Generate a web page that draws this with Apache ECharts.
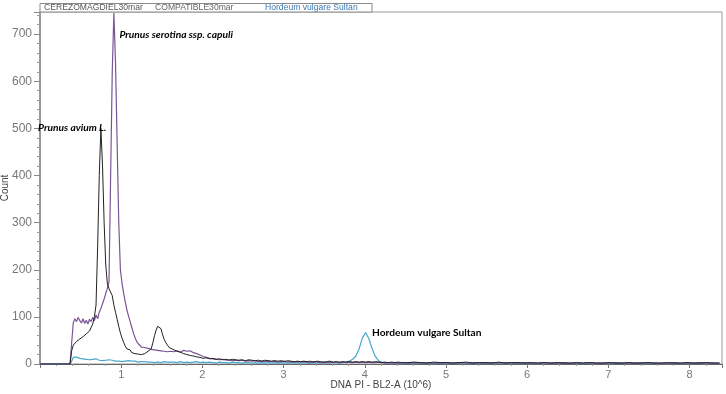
<!DOCTYPE html>
<html>
<head>
<meta charset="utf-8">
<script src="https://cdn.jsdelivr.net/npm/echarts@6/dist/echarts.min.js"></script>
<style>
html,body{margin:0;padding:0;background:#fff;}
#chart{width:726px;height:394px;}
</style>
</head>
<body>
<div id="chart"></div>
<script>
// Channel positions (DNA PI - BL2-A, 10^6)
const channels = [
  0, 0.37,
  0.39,0.41,0.43,0.45,0.47,0.49,0.51,0.53,0.55,0.57,
  0.59,0.61,0.63,0.65,0.67,0.69,0.71,0.73,0.75,0.77,
  0.79,0.81,0.83,0.85,0.87,0.89,0.91,0.93,0.95,0.97,
  0.99,1.01,1.03,1.05,1.07,1.09,1.11,1.13,1.15,1.17,
  1.19,1.21,1.23,1.25,1.27,1.29,1.31,1.33,1.35,1.37,
  1.39,1.41,1.43,1.45,1.47,1.49,1.51,1.53,1.55,1.57,
  1.59,1.61,
  1.65,1.69,1.73,1.77,1.81,1.85,1.89,1.93,1.97,2.01,
  2.05,2.09,2.13,2.17,2.21,2.25,2.29,2.33,2.37,2.41,
  2.45,2.49,2.53,2.57,2.61,2.65,2.69,2.73,2.77,2.81,
  2.85,2.89,2.93,2.97,3.01,3.05,3.09,3.13,3.17,3.21,
  3.25,3.29,3.33,3.37,3.41,3.45,3.49,3.53,3.57,3.61,
  3.65,3.69,3.73,3.77,3.81,3.85,3.89,3.93,3.97,4.01,
  4.05,4.09,4.13,4.17,4.21,4.25,4.29,4.33,4.37,4.41,
  4.45,
  4.53,4.61,4.69,4.77,4.85,4.93,5.01,5.09,5.17,5.25,
  5.33,5.41,5.49,5.57,5.65,5.73,5.81,5.89,5.97,6.05,
  6.13,6.21,6.29,6.37,6.45,6.53,6.61,6.69,6.77,6.85,
  6.93,7.01,7.09,7.17,7.25,7.33,7.41,7.49,7.57,7.65,
  7.73,7.81,7.89,7.97,8.05,8.13,8.21,8.29,8.37
];

// CEREZOMAGDIEL30mar (black, Prunus avium L.)
const cerezoCounts = [
  0, 0,
  28,40,36,48,44,53,50,58,55,64,
  60,70,72,85,100,125,250,400,500,420,
  300,210,170,160,163,145,125,110,95,80,
  66,55,46,38,32,28,30,24,27,22,
  26,21,25,20,24,22,24,27,28,32,
  45,60,72,80,84,75,62,52,45,40,
  35,32,
  30,27,25,22,20,18,17,15,14,12,
  13,11,12,10,11,9,10,8,10,9,
  8,9,7,9,8,7,8,6,8,7,
  6,7,6,7,5,7,6,5,6,5,
  6,5,6,4,6,5,4,5,6,4,
  5,4,5,4,5,4,5,4,5,4,
  5,4,5,4,3,4,3,4,3,4,
  3,
  3,4,3,2,4,3,3,2,3,4,
  2,3,3,2,4,2,3,3,2,3,
  2,3,2,3,2,2,3,2,3,2,
  2,3,2,2,3,2,2,3,2,2,
  3,2,2,3,2,2,3,2,2
];

// COMPATIBLE30mar (purple, Prunus serotina ssp. capuli)
const compatibleCounts = [
  0, 0,
  45,88,96,90,99,92,87,96,86,93,
  85,95,90,99,92,104,96,110,118,128,
  138,150,160,175,400,620,745,640,470,300,
  200,172,150,132,115,102,90,78,66,56,
  48,43,39,36,33,35,31,33,29,31,
  28,30,27,29,26,28,25,27,24,26,
  25,27,
  26,28,25,29,27,28,24,22,19,16,
  14,12,11,10,9,10,8,9,7,8,
  7,8,6,7,6,7,5,6,5,6,
  5,6,4,5,6,4,5,4,5,4,
  5,4,3,5,4,3,4,3,4,3,
  4,3,4,3,4,3,4,3,4,3,
  4,3,3,4,3,2,3,2,3,2,
  3,
  2,3,2,3,2,2,3,2,3,2,
  3,2,2,3,2,3,2,2,3,2,
  2,3,2,2,3,2,2,2,3,2,
  2,2,3,2,2,2,3,2,2,2,
  2,3,2,2,2,3,2,2,2
];

// Hordeum vulgare Sultan (blue, standard)
const hordeumCounts = [
  0, 0,
  6,14,12,15,13,12,14,11,13,10,
  12,9,11,10,8,11,9,8,10,7,
  9,8,7,9,6,8,7,6,8,6,
  7,5,7,6,5,7,5,6,4,6,
  5,4,6,5,4,5,6,4,5,4,
  5,3,5,4,5,3,4,5,3,4,
  3,4,
  4,3,5,3,4,3,4,5,3,4,
  3,4,3,2,4,3,3,2,4,3,
  3,2,3,3,2,3,2,3,2,3,
  2,3,2,3,2,2,3,2,3,2,
  3,2,2,3,2,3,2,3,2,3,
  3,2,3,4,6,10,17,32,55,67,
  54,33,16,7,4,3,2,3,2,2,
  2,
  2,1,2,2,1,2,1,2,2,1,
  2,1,2,1,2,2,1,2,1,2,
  1,2,2,1,2,1,2,1,2,1,
  2,1,1,2,1,2,1,1,2,1,
  1,2,1,1,2,1,1,2,1
];

const seriesNames = ['CEREZOMAGDIEL30mar', 'COMPATIBLE30mar', 'Hordeum vulgare Sultan'];
const peakLabels = ['Prunus avium L.', 'Prunus serotina ssp. capuli', 'Hordeum vulgare Sultan'];
const peakCoords = [[0.75, 500], [0.91, 745], [4.01, 67]];
const xTicks = [1, 2, 3, 4, 5, 6, 7, 8];
const yTicks = [0, 100, 200, 300, 400, 500, 600, 700];

const toPairs = ys => channels.map((x, i) => [x, ys[i]]);

const chart = echarts.init(document.getElementById('chart'), null, {renderer: 'canvas'});

const annoFont = {fontFamily: 'Lato', fontWeight: 'bold', fontSize: 10.2, color: '#000'};

function mk(idx, pos, offset, italic) {
  return {
    symbol: 'circle', symbolSize: 1,
    itemStyle: {color: 'rgba(0,0,0,0)'},
    silent: true,
    animation: false,
    data: [{coord: peakCoords[idx], label: {
      show: true, position: pos, distance: 3, offset: offset,
      formatter: peakLabels[idx],
      fontStyle: italic ? 'italic' : 'normal',
      ...annoFont
    }}]
  };
}

const option = {
  animation: false,
  backgroundColor: '#fff',
  grid: {left: 40, right: 4, top: 12, bottom: 30, containLabel: false, outerBoundsMode: 'none',
         show: true, borderColor: '#9a9a9a', borderWidth: 1},
  xAxis: {
    type: 'value', min: 0, max: 8.4, interval: 1,
    name: 'DNA PI - BL2-A (10^6)', nameLocation: 'middle', nameGap: 16, nameMoveOverlap: false,
    nameTextStyle: {fontFamily: 'Liberation Sans', fontSize: 10, color: '#444'},
    axisLine: {lineStyle: {color: '#666', width: 1}},
    axisTick: {show: true, length: 4, lineStyle: {color: '#777'}},
    minorTick: {show: true, splitNumber: 5, length: 2, lineStyle: {color: '#999'}},
    splitLine: {show: false},
    axisLabel: {
      showMinLabel: false, showMaxLabel: false, margin: 5,
      fontFamily: 'Liberation Sans', fontSize: 11, color: '#777',
      formatter: v => xTicks.includes(v) ? String(v) : ''
    }
  },
  yAxis: {
    type: 'value', min: 0, max: 747, interval: 100,
    name: 'Count', nameLocation: 'middle', nameGap: 30, nameRotate: 90, nameMoveOverlap: false,
    nameTextStyle: {fontFamily: 'Liberation Sans', fontSize: 10, color: '#444'},
    axisLine: {show: true, lineStyle: {color: '#888', width: 1.5}},
    axisTick: {show: true, length: 6, lineStyle: {color: '#888'}},
    minorTick: {show: true, splitNumber: 5, length: 3, lineStyle: {color: '#999'}},
    splitLine: {show: false},
    axisLabel: {
      showMaxLabel: false, margin: 8,
      fontFamily: 'Liberation Sans', fontSize: 12, color: '#777',
      formatter: v => yTicks.includes(v) ? String(v) : ''
    }
  },
  graphic: [
    {type: 'rect', shape: {x: 40, y: 3.5, width: 332, height: 8.5},
     style: {fill: '#fff', stroke: '#8a8a8a', lineWidth: 1}, z: 100},
    {type: 'text', x: 44, y: 8, z: 101,
     style: {text: seriesNames[0], fill: '#555', font: '8.6px "Liberation Sans"', textVerticalAlign: 'middle'}},
    {type: 'text', x: 155, y: 8, z: 101,
     style: {text: seriesNames[1], fill: '#666', font: '8.6px "Liberation Sans"', textVerticalAlign: 'middle'}},
    {type: 'text', x: 265, y: 8, z: 101,
     style: {text: seriesNames[2], fill: '#3a78b0', font: '8.6px "Liberation Sans"', textVerticalAlign: 'middle'}}
  ],
  series: [
    {
      name: seriesNames[2], type: 'line', data: toPairs(hordeumCounts),
      showSymbol: false, symbol: 'none', lineStyle: {color: '#4aa6cb', width: 1.2},
      markPoint: mk(2, 'right', [3, 0], false), z: 2
    },
    {
      name: seriesNames[1], type: 'line', data: toPairs(compatibleCounts),
      showSymbol: false, symbol: 'none', lineStyle: {color: '#7a5596', width: 1.2},
      markPoint: mk(1, 'right', [2, 22], true), z: 3
    },
    {
      name: seriesNames[0], type: 'line', data: toPairs(cerezoCounts),
      showSymbol: false, symbol: 'none', lineStyle: {color: '#222', width: 1},
      markPoint: mk(0, 'left', [9, -1], true), z: 4
    }
  ]
};
chart.setOption(option);
</script>
</body>
</html>
